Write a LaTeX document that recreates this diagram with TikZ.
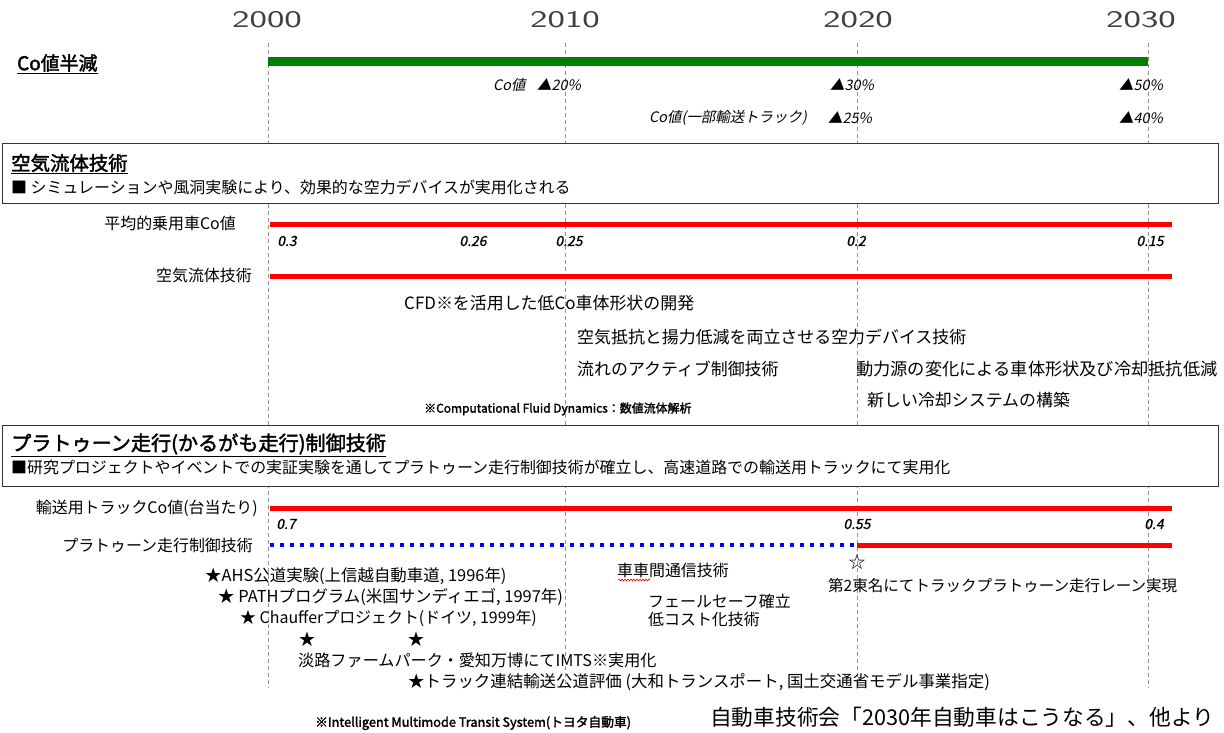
\documentclass[tikz,border=0pt]{standalone}
\usepackage{fontspec}
\setmainfont{Noto Sans CJK JP}
\newfontfamily\jpit[FakeSlant=0.2]{Noto Sans CJK JP}
\newfontfamily\jpbit[FakeSlant=0.2,FakeBold=1]{Noto Sans CJK JP}
\newfontfamily\jpbf[FakeBold=2]{Noto Sans CJK JP}
\usetikzlibrary{decorations.pathmorphing}
\definecolor{bargreen}{RGB}{0,128,0}
\begin{document}
\begin{tikzpicture}[x=1bp,y=-1bp,
  vgrid/.style={draw=gray!85, dash pattern=on 4bp off 3bp, line width=0.8bp},
  grnbar/.style={draw=bargreen, line width=9bp},
  redbar/.style={draw=red, line width=5bp},
  bluedot/.style={draw=blue, line width=4bp, dash pattern=on 4bp off 6bp},
  secbox/.style={draw=black!80, line width=1.3bp, fill=white, inner sep=0pt, anchor=north west},
  txt/.style={inner sep=0pt, anchor=west, font=\fontsize{16}{18}\selectfont},
  mtxt/.style={txt, font=\fontsize{17}{19}\selectfont},
  rtxt/.style={txt, anchor=east},
  btxt/.style={txt, font=\fontsize{16.5}{18}\selectfont},
  ttl/.style={inner sep=0pt, anchor=west, font=\jpbf\fontsize{19.5}{21}\selectfont},
  itx/.style={inner sep=0pt, anchor=west, font=\jpit\fontsize{14.5}{16}\selectfont},
  val/.style={inner sep=0pt, font=\jpbit\fontsize{14}{16}\selectfont},
  note/.style={inner sep=0pt, anchor=west, font=\jpbf\fontsize{12}{14}\selectfont},
  yr/.style={inner sep=0pt, font=\sffamily\fontsize{24}{26}\selectfont, text=black!75}
]
\useasboundingbox (0,0) rectangle (1224,733);

% year labels
\node[yr] (y2000) at (267,20) {\scalebox{1.55}[1]{2000}};
\node[yr] (y2010) at (565,20) {\scalebox{1.55}[1]{2010}};
\node[yr] (y2020) at (858,20) {\scalebox{1.55}[1]{2020}};
\node[yr] (y2030) at (1141,20) {\scalebox{1.55}[1]{2030}};

% vertical dashed grid lines
\coordinate (g0t) at (268,43); \coordinate (g0b) at (268,688);
\coordinate (g1t) at (565,43); \coordinate (g1b) at (565,688);
\coordinate (g2t) at (857,43); \coordinate (g2b) at (857,688);
\coordinate (g3t) at (1148,43); \coordinate (g3b) at (1148,688);
\draw[vgrid] (g0t) -- (g0b);
\draw[vgrid] (g1t) -- (g1b);
\draw[vgrid] (g2t) -- (g2b);
\draw[vgrid] (g3t) -- (g3b);

% Co half
\node[ttl, font=\jpbf\fontsize{19}{21}\selectfont] (cohalf) at (17,64) {\underline{Co値半減}};
\coordinate (gs) at (268,62); \coordinate (ge) at (1148,62);
\draw[grnbar] (gs) -- (ge);
\node[itx] (r1a) at (493,85) {Co値};
\node[itx] (r1b) at (537,85) {▲20\%};
\node[itx] (r1c) at (830,85) {▲30\%};
\node[itx] (r1d) at (1119,85) {▲50\%};
\node[itx] (r2a) at (649,118) {Co値(一部輸送トラック)};
\node[itx] (r2b) at (828,118) {▲25\%};
\node[itx] (r2c) at (1119,118) {▲40\%};

% box 1
\node[secbox, minimum width=1216bp, minimum height=60bp] (box1) at (2,143) {};
\node[ttl] (t1) at (11,164) {\underline{空気流体技術}};
\node[txt] (s1) at (11,187) {■ シミュレーションや風洞実験により、効果的な空力デバイスが実用化される};

\node[rtxt] (l1) at (236,223) {平均的乗用車Co値};
\coordinate (a1s) at (270,224); \coordinate (a1e) at (1172,224);
\draw[redbar] (a1s) -- (a1e);
\node[val] (v1) at (287,241) {0.3};
\node[val] (v2) at (473,241) {0.26};
\node[val] (v3) at (569,241) {0.25};
\node[val] (v4) at (856,241) {0.2};
\node[val] (v5) at (1150,241) {0.15};

\node[rtxt] (l2) at (252,275) {空気流体技術};
\coordinate (a2s) at (270,276); \coordinate (a2e) at (1172,276);
\draw[redbar] (a2s) -- (a2e);

\node[mtxt] (c1) at (404,303) {CFD※を活用した低Co車体形状の開発};
\node[mtxt] (c2) at (577,337) {空気抵抗と揚力低減を両立させる空力デバイス技術};
\node[mtxt] (c3) at (577,369) {流れのアクティブ制御技術};
\node[mtxt, font=\fontsize{17.3}{19}\selectfont] (c4) at (856,369) {動力源の変化による車体形状及び冷却抵抗低減};
\node[mtxt] (c5) at (867,400) {新しい冷却システムの構築};
\node[note] (n1) at (424,409) {※Computational Fluid Dynamics：数値流体解析};

% box 2
\node[secbox, minimum width=1216bp, minimum height=61bp] (box2) at (2,425) {};
\node[ttl, font=\jpbf\fontsize{20.2}{22}\selectfont] (t2) at (11,445) {\underline{プラトゥーン走行(かるがも走行)制御技術}};
\node[txt] (s2) at (11,467) {■研究プロジェクトやイベントでの実証実験を通してプラトゥーン走行制御技術が確立し、高速道路での輸送用トラックにて実用化};

\node[rtxt] (l3) at (258,508) {輸送用トラックCo値(台当たり)};
\coordinate (b1s) at (270,508); \coordinate (b1e) at (1172,508);
\draw[redbar] (b1s) -- (b1e);
\node[val] (w1) at (286,524) {0.7};
\node[val] (w2) at (857,524) {0.55};
\node[val] (w3) at (1154,524) {0.4};

\node[rtxt] (l4) at (253,545) {プラトゥーン走行制御技術};
\coordinate (b2s) at (270,545); \coordinate (b2m) at (857,545); \coordinate (b2e) at (1172,545);
\draw[bluedot] (b2s) -- (b2m);
\draw[redbar] (b2m) -- (b2e);
\node[inner sep=0pt, font=\fontsize{17}{18}\selectfont] (wstar) at (857,562) {☆};

\node[txt] (d1) at (617,570) {車車間通信技術};
\coordinate (sq1) at (618,580); \coordinate (sq2) at (650,580);
\draw[red, line width=0.6bp, decorate, decoration={snake, amplitude=1bp, segment length=3bp}] (sq1) -- (sq2);
\node[txt, font=\fontsize{15.6}{18}\selectfont] (d2) at (828,586) {第2東名にてトラックプラトゥーン走行レーン実現};
\node[txt] (d3) at (648,601) {フェールセーフ確立};
\node[txt] (d4) at (648,619) {低コスト化技術};

\node[btxt] (e1) at (205,576) {★AHS公道実験(上信越自動車道, 1996年)};
\node[btxt] (e2) at (218,597) {★ PATHプログラム(米国サンディエゴ, 1997年)};
\node[btxt, font=\fontsize{16}{18}\selectfont] (e3) at (240,618) {★ Chaufferプロジェクト(ドイツ, 1999年)};
\node[inner sep=0pt, font=\fontsize{16.5}{18}\selectfont] (st1) at (307,639) {★};
\node[inner sep=0pt, font=\fontsize{16.5}{18}\selectfont] (st2) at (416,639) {★};
\node[btxt, font=\fontsize{16.2}{18}\selectfont] (e4) at (298,660) {淡路ファームパーク・愛知万博にてIMTS※実用化};
\node[btxt] (e5) at (408,682) {★トラック連結輸送公道評価 (大和トランスポート, 国土交通省モデル事業指定)};

\node[note, font=\jpbf\fontsize{12.8}{15}\selectfont] (n2) at (315,723) {※Intelligent Multimode Transit System(トヨタ自動車)};
\node[inner sep=0pt, anchor=west, font=\fontsize{21.8}{23}\selectfont] (src) at (710,717) {自動車技術会「2030年自動車はこうなる」、他より};
\end{tikzpicture}
\end{document}
